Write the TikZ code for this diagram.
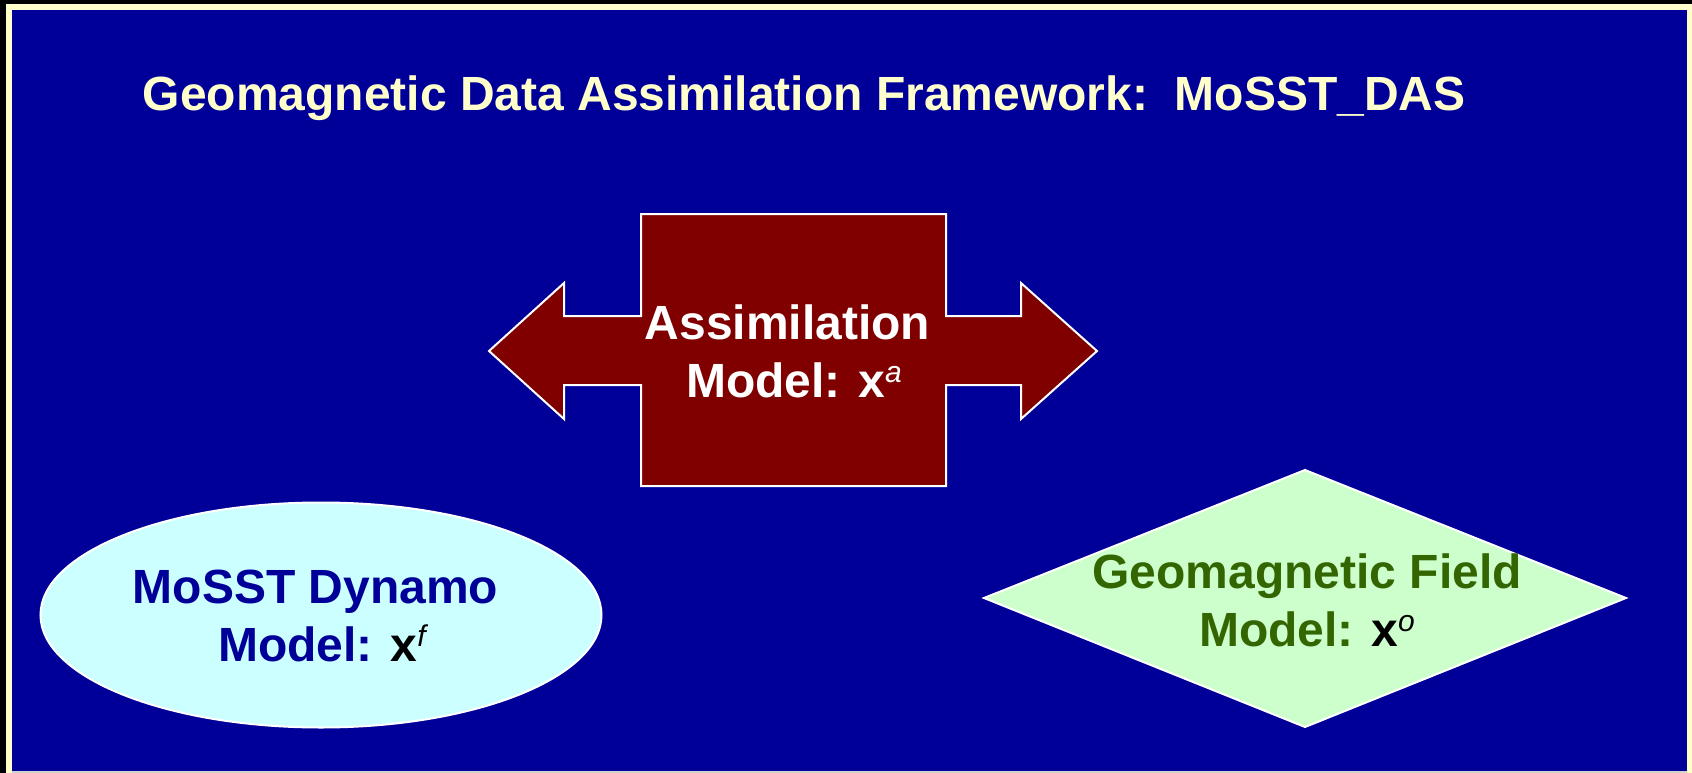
\documentclass[tikz,border=0pt]{standalone}
\usepackage{fontspec}
\setmainfont{Liberation Sans}
\definecolor{bgblue}{HTML}{000099}
\definecolor{cream}{HTML}{FFFFCC}
\definecolor{maroon}{HTML}{800000}
\definecolor{paleCyan}{HTML}{CCFFFF}
\definecolor{paleGreen}{HTML}{CCFFCC}
\definecolor{darkGreen}{HTML}{336600}
\newcommand\supit[1]{\raisebox{15pt}{\fontsize{30}{30}\selectfont\mdseries\itshape #1}}
\tikzset{
  bigtext/.style={font=\fontsize{48}{58}\selectfont\bfseries, inner sep=0pt, align=center},
  shapeline/.style={draw=white, line width=2pt, line join=miter},
}
\begin{document}
\begin{tikzpicture}[x=1pt,y=-1pt]
\useasboundingbox (0,0) rectangle (1692,773);
\fill[black] (0,0) rectangle (1692,773);
\fill[cream] (6,4) rectangle (1692,773);
\fill[bgblue] (12,10) rectangle (1687,771);
\fill[black!18] (12,771) rectangle (1687,773);

% title
\node[bigtext, text=cream, anchor=base west] (title) at (142.5,110.7)
  {Geomagnetic Data Assimilation Framework:\ \ MoSST\_DAS};

% double arrow with central box
\path[shapeline, fill=maroon]
  (641,214) -- (946,214) -- (946,316) -- (1021,316) -- (1021,283) -- (1097,351)
  -- (1021,419) -- (1021,385) -- (946,385) -- (946,486) -- (641,486) -- (641,385)
  -- (564,385) -- (564,419) -- (489,351) -- (564,283) -- (564,316) -- (641,316) -- cycle;
\node[bigtext, text=white, anchor=north] (assim) at (794,305)
  {Assimilation\kern13pt\\Model: x\supit{a}};

% ellipse
\path[shapeline, fill=paleCyan] (321,615) ellipse [x radius=280.5, y radius=112.5];
\node[bigtext, text=bgblue, anchor=north] (dynamo) at (322,570)
  {MoSST Dynamo\kern13pt\\Model: \textcolor{black}{x\supit{f}}};

% diamond
\path[shapeline, fill=paleGreen] (1305,470) -- (1626,598) -- (1305,727) -- (984,598) -- cycle;
\node[bigtext, text=darkGreen, anchor=north] (field) at (1307,554)
  {Geomagnetic Field\\Model: \textcolor{black}{x\supit{o}}};
\end{tikzpicture}
\end{document}
